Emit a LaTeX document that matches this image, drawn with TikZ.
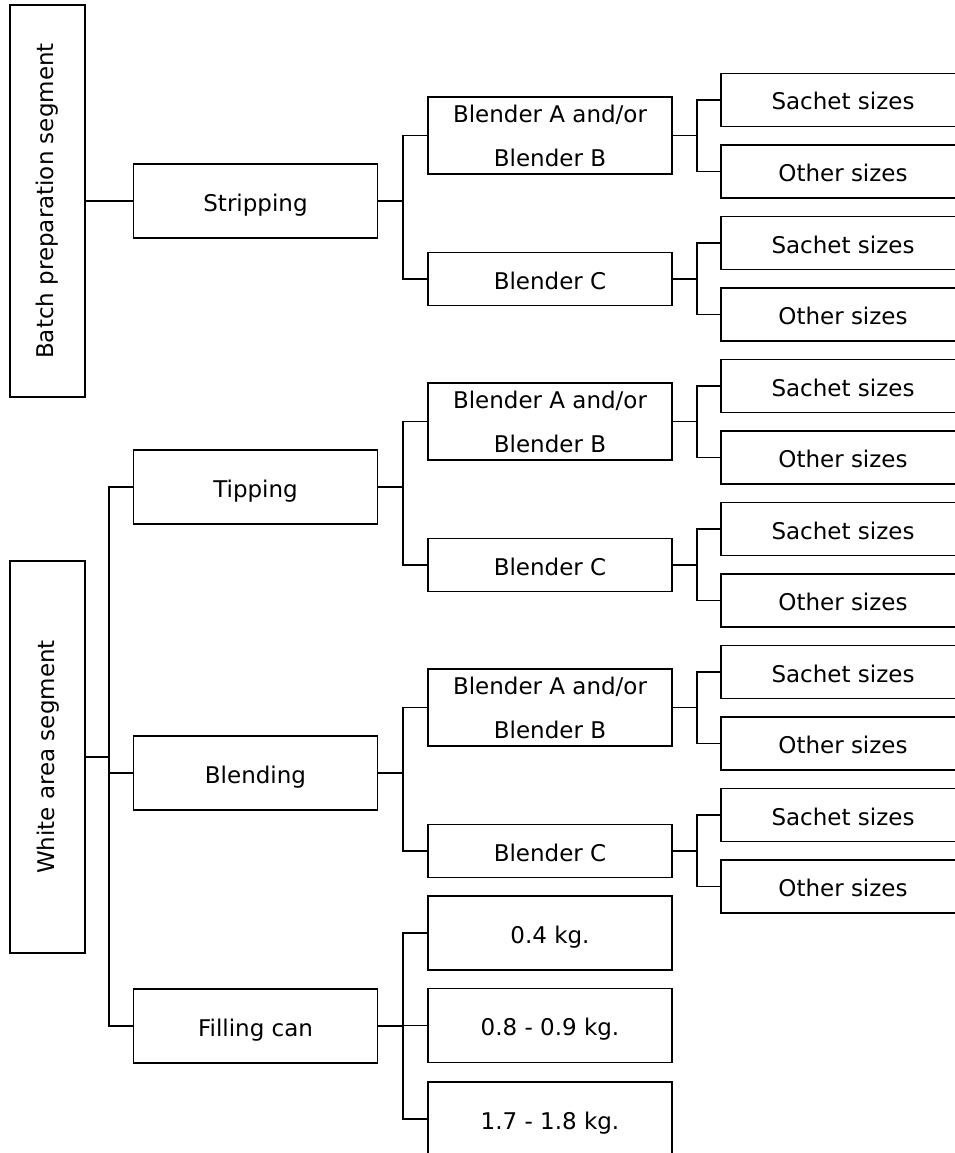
\documentclass[tikz,border=0pt]{standalone}
\usepackage{fontspec}
\setmainfont{DejaVu Sans}
\begin{document}
\begin{tikzpicture}[x=1pt,y=-1pt,
  basebox/.style={draw, line width=1.8pt, inner sep=0pt, minimum width=244pt,
    font=\fontsize{23}{44}\selectfont, align=center},
  box/.style={basebox, minimum height=74pt, text height=20pt, text depth=0pt},
  twoline/.style={basebox, minimum height=77pt},
  thin/.style={basebox, minimum height=53pt, text height=20pt, text depth=0pt},
  seg/.style={draw, line width=1.8pt, inner sep=0pt, minimum width=75pt, minimum height=392pt,
    font=\fontsize{23}{28}\selectfont},
  conn/.style={line width=1.8pt}]
\useasboundingbox (0,0) rectangle (955,1153);
\clip (0,0) rectangle (955,1153);

% segments
\node[seg] (batch) at (47.5,201) {\rotatebox{90}{Batch preparation segment}};
\node[seg] (white) at (47.8,757) {\rotatebox{90}{White area segment}};

% level 1
\node[box] (strip) at (255.5,201) {Stripping};
\node[box] (tip) at (255.5,487) {Tipping};
\node[box] (blend) at (255.5,773) {Blending};
\node[box] (fill) at (255.5,1026) {Filling can};

% group 1
\node[twoline] (b1ab) at (550,135.5) {Blender A and/or\\Blender B};
\node[thin] (b1c) at (550,279) {Blender C};
\node[thin] (s1) at (843,100) {Sachet sizes};
\node[thin] (o1) at (843,171.5) {Other sizes};
\node[thin] (s2) at (843,243) {Sachet sizes};
\node[thin] (o2) at (843,314.5) {Other sizes};

% group 2
\node[twoline] (b2ab) at (550,421.5) {Blender A and/or\\Blender B};
\node[thin] (b2c) at (550,565) {Blender C};
\node[thin] (s3) at (843,386) {Sachet sizes};
\node[thin] (o3) at (843,457.5) {Other sizes};
\node[thin] (s4) at (843,529) {Sachet sizes};
\node[thin] (o4) at (843,600.5) {Other sizes};

% group 3
\node[twoline] (b3ab) at (550,707.5) {Blender A and/or\\Blender B};
\node[thin] (b3c) at (550,851) {Blender C};
\node[thin] (s5) at (843,672) {Sachet sizes};
\node[thin] (o5) at (843,743.5) {Other sizes};
\node[thin] (s6) at (843,815) {Sachet sizes};
\node[thin] (o6) at (843,886.5) {Other sizes};

% filling sizes
\node[box] (k1) at (550,933) {0.4 kg.};
\node[box] (k2) at (550,1025.5) {0.8 - 0.9 kg.};
\node[box] (k3) at (550,1119) {1.7 - 1.8 kg.};

% bus coordinates
\coordinate (wbus) at (109,0);
\coordinate (gbus) at (402.7,0);
\coordinate (sbus) at (696.7,0);

% connectors
\draw[conn] (batch.east) -- (strip.west);
\draw[conn] (white.east) -- (white.east -| wbus);
\draw[conn] (tip.west) -- (tip.west -| wbus) -- (fill.west -| wbus) -- (fill.west);
\draw[conn] (blend.west) -- (blend.west -| wbus);

\draw[conn] (strip.east) -- (strip.east -| gbus);
\draw[conn] (b1ab.west) -- (b1ab.west -| gbus) -- (b1c.west -| gbus) -- (b1c.west);
\draw[conn] (tip.east) -- (tip.east -| gbus);
\draw[conn] (b2ab.west) -- (b2ab.west -| gbus) -- (b2c.west -| gbus) -- (b2c.west);
\draw[conn] (blend.east) -- (blend.east -| gbus);
\draw[conn] (b3ab.west) -- (b3ab.west -| gbus) -- (b3c.west -| gbus) -- (b3c.west);
\draw[conn] (fill.east) -- (fill.east -| gbus);
\draw[conn] (k1.west) -- (k1.west -| gbus) -- (k3.west -| gbus) -- (k3.west);
\draw[conn] (k2.west) -- (k2.west -| gbus);

\draw[conn] (b1ab.east) -- (b1ab.east -| sbus);
\draw[conn] (s1.west) -- (s1.west -| sbus) -- (o1.west -| sbus) -- (o1.west);
\draw[conn] (b1c.east) -- (b1c.east -| sbus);
\draw[conn] (s2.west) -- (s2.west -| sbus) -- (o2.west -| sbus) -- (o2.west);
\draw[conn] (b2ab.east) -- (b2ab.east -| sbus);
\draw[conn] (s3.west) -- (s3.west -| sbus) -- (o3.west -| sbus) -- (o3.west);
\draw[conn] (b2c.east) -- (b2c.east -| sbus);
\draw[conn] (s4.west) -- (s4.west -| sbus) -- (o4.west -| sbus) -- (o4.west);
\draw[conn] (b3ab.east) -- (b3ab.east -| sbus);
\draw[conn] (s5.west) -- (s5.west -| sbus) -- (o5.west -| sbus) -- (o5.west);
\draw[conn] (b3c.east) -- (b3c.east -| sbus);
\draw[conn] (s6.west) -- (s6.west -| sbus) -- (o6.west -| sbus) -- (o6.west);
\end{tikzpicture}
\end{document}
